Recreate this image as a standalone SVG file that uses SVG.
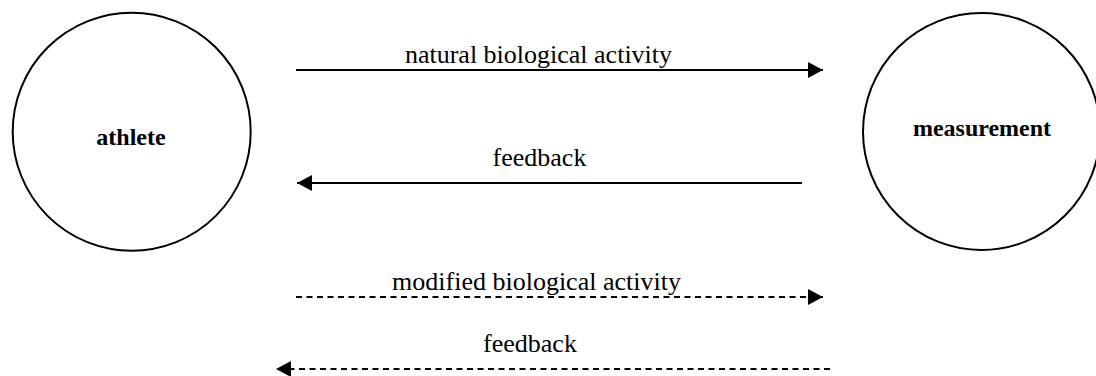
<svg xmlns="http://www.w3.org/2000/svg" width="1096" height="376" viewBox="0 0 1096 376">
<style>
.node{fill:#fff;stroke:#000;stroke-width:2}
.lbl{font-family:"Liberation Serif","Times New Roman",serif;font-size:24px;font-weight:bold;text-anchor:middle;fill:#000}
.elbl{font-family:"Liberation Serif","Times New Roman",serif;font-size:26px;text-anchor:middle;fill:#000}
.edge{stroke:#000;stroke-width:2;fill:none}
.dash{stroke-dasharray:6 4.5}
</style>
<defs>
<marker id="ah" markerUnits="userSpaceOnUse" markerWidth="16" markerHeight="16" viewBox="0 0 15 16" refX="15" refY="8" orient="auto">
<path d="M0,0 L15,8 L0,16 Z" fill="#000"/>
</marker>
</defs>
<rect width="1096" height="376" fill="#fff"/>
<g id="athlete">
<circle class="node" cx="131.7" cy="131.7" r="119"/>
<text class="lbl" x="131" y="145">athlete</text>
</g>
<g id="measurement">
<circle class="node" cx="981.5" cy="131.5" r="118.5"/>
<text class="lbl" x="982" y="136">measurement</text>
</g>
<g id="connectors">
<line class="edge" x1="296" y1="70" x2="823" y2="70" marker-end="url(#ah)"/>
<text class="elbl" x="538.5" y="63">natural biological activity</text>
<line class="edge" x1="802" y1="183" x2="297" y2="183" marker-end="url(#ah)"/>
<text class="elbl" x="539.5" y="166">feedback</text>
<line class="edge dash" x1="296" y1="297" x2="823" y2="297" marker-end="url(#ah)"/>
<text class="elbl" x="536.5" y="290">modified biological activity</text>
<line class="edge dash" x1="830" y1="369" x2="276" y2="369" marker-end="url(#ah)"/>
<text class="elbl" x="530" y="352">feedback</text>
</g>
</svg>
